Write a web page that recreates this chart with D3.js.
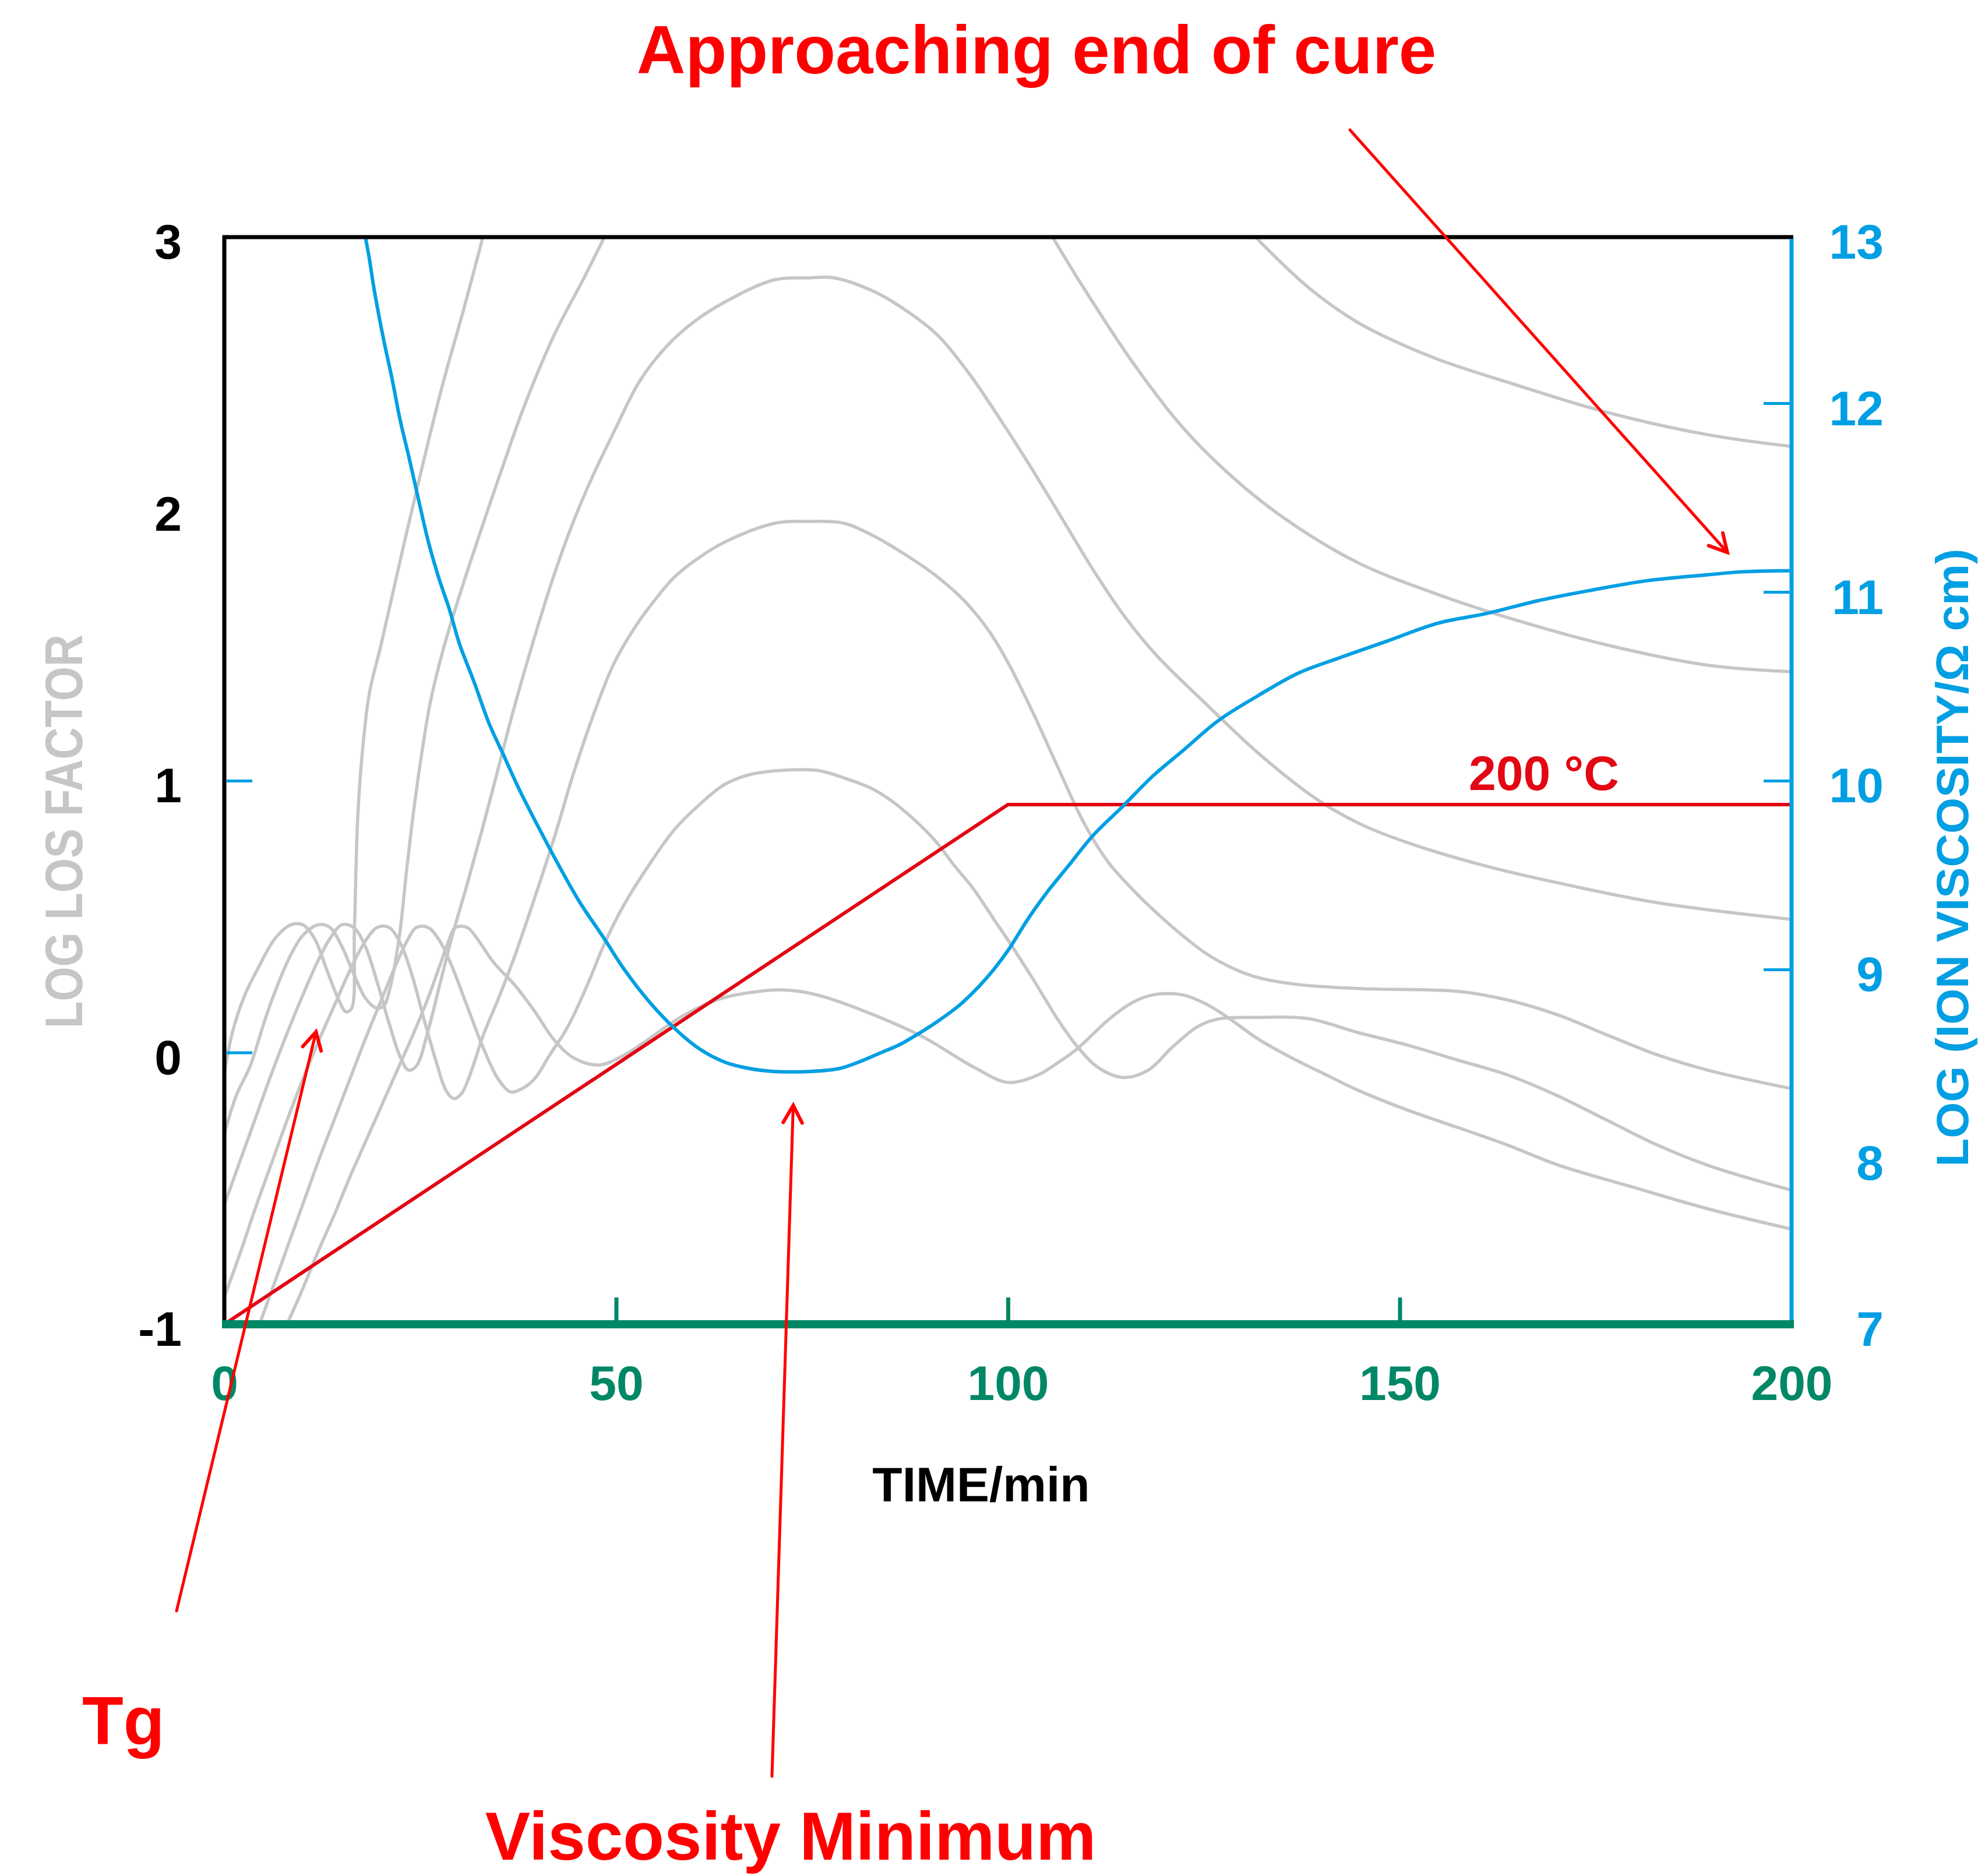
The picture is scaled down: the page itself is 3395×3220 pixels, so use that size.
<!DOCTYPE html>
<html>
<head>
<meta charset="utf-8">
<script src="https://cdn.jsdelivr.net/npm/d3@7"></script>
<style>
  html, body { margin: 0; padding: 0; background: #ffffff; }
  svg { display: block; }
  text { font-family: "Liberation Sans", Arial, Helvetica, sans-serif; font-weight: bold; }
</style>
</head>
<body>
<svg id="chart" width="3395" height="3220"></svg>
<script>
// ---------- axis ticks ----------
const timeTicks = [0, 50, 100, 150, 200];
const timeTickMarks = [50, 100, 150];
const lossTicks = [-1, 0, 1, 2, 3];
const lossTickMarks = [0, 1];
const viscTicks = [7, 8, 9, 10, 11, 12, 13];
const viscTickMarks = [9, 10, 11, 12];

// ---------- log ion viscosity [min, log(ohm cm)] ----------
const viscosity = [
  [18.05, 12.87], [18.5, 12.767], [19.1, 12.608], [20.3, 12.343], [21.4, 12.131], [22.4, 11.918],
  [23.6, 11.707], [24.9, 11.468], [26.1, 11.256], [27.4, 11.07], [28.7, 10.911], [30.0, 10.726],
  [31.9, 10.52], [33.8, 10.302], [35.7, 10.13], [37.6, 9.957], [40.2, 9.745], [42.7, 9.55],
  [45.3, 9.36], [48.5, 9.162], [51.0, 9.002], [54.2, 8.83], [57.4, 8.69], [60.6, 8.58],
  [63.8, 8.51], [67, 8.475], [70, 8.46], [75, 8.46], [78.5, 8.475], [81, 8.51],
  [83.5, 8.554], [86.1, 8.60], [88.6, 8.66], [91.2, 8.73], [93.8, 8.81], [96.3, 8.91],
  [98.2, 9.0], [100, 9.1], [102.6, 9.27], [105.1, 9.415], [107.7, 9.548],
  [110.8, 9.707], [114.7, 9.866], [118.5, 10.025], [122.3, 10.158], [126.8, 10.317], [131.9, 10.45],
  [137.0, 10.569], [142.1, 10.648], [148.5, 10.741], [154.8, 10.834], [161.2, 10.887], [167.6, 10.953],
  [174.0, 11.006], [181.6, 11.06], [189.3, 11.091], [193.8, 11.107], [200, 11.113]
];

// ---------- cure temperature programme [min, degC] ----------
const temperature = [[0, 0], [100, 200], [200, 200]];
const holdLabel = "200 °C";

// ---------- log loss factor, one series per frequency [min, log] (null = off scale) ----------
const lossA = [
  [0, -0.08], [1, 0.07], [2.6, 0.21], [4.3, 0.31], [6.5, 0.42], [8.5, 0.47], [10, 0.47], [11.5, 0.42],
  [13, 0.31], [14.5, 0.2], [15.5, 0.15], [16.2, 0.16], [16.6, 0.45], [17.0, 0.85], [17.6, 1.1],
  [18.5, 1.32], [20, 1.5], [21.5, 1.69], [23, 1.88], [24.8, 2.1], [27.7, 2.44], [30.6, 2.74],
  [33, 3.0], [80, null], [131.6, 3.0], [138.3, 2.816], [144.6, 2.687], [154.2, 2.558], [163.8, 2.466],
  [176.5, 2.355], [189.3, 2.273], [200, 2.23]
];
const lossB = [
  [0, -0.30], [1.5, -0.16], [3.3, -0.05], [5.3, 0.13], [7.1, 0.27], [8.5, 0.36], [10, 0.43], [12, 0.47],
  [13.5, 0.46], [15, 0.39], [16.5, 0.29], [18, 0.2], [19.3, 0.165], [20.3, 0.17], [21, 0.22], [22.3, 0.42],
  [23.3, 0.68], [24.3, 0.92], [25.3, 1.12], [26.3, 1.29], [28.1, 1.50], [30, 1.68], [32.5, 1.90],
  [35.7, 2.17], [38.3, 2.38], [42.1, 2.64], [45.9, 2.85], [48.5, 3.0],
  [80, null], [105.7, 3.0], [109.6, 2.816], [115.9, 2.54], [122.3, 2.3], [128.7, 2.116], [135.1, 1.969],
  [144.6, 1.803], [154.2, 1.692], [163.8, 1.6], [176.5, 1.499], [189.3, 1.425], [200, 1.401]
];
const lossC = [
  [0, -0.56], [2, -0.40], [4, -0.24], [6, -0.08], [8, 0.07], [10, 0.21], [12, 0.34], [13.5, 0.42],
  [15, 0.47], [16.5, 0.46], [18, 0.39], [19.5, 0.26], [21, 0.11], [22.5, -0.02], [23.5, -0.065],
  [24.5, -0.05], [26, 0.08], [27.5, 0.25], [29, 0.42], [31, 0.62], [33, 0.83], [35, 1.05],
  [37, 1.27], [39.5, 1.52], [42, 1.75], [44.5, 1.95], [47, 2.12], [50, 2.3], [53, 2.47],
  [56.5, 2.6], [60, 2.69], [63.8, 2.76], [70.2, 2.843], [74.6, 2.85], [77.8, 2.85], [82.9, 2.8],
  [87, 2.73], [91, 2.64], [95, 2.5], [99, 2.33], [103, 2.15], [107, 1.96], [111, 1.77],
  [115, 1.6], [119, 1.46], [125, 1.29], [132, 1.10], [139.5, 0.93], [145, 0.84],
  [151, 0.772], [160.6, 0.689], [170.2, 0.624], [182.9, 0.551], [200, 0.49]
];
const lossD = [
  [0, -0.90], [2, -0.74], [4, -0.57], [6, -0.41], [8, -0.25], [10, -0.1], [12, 0.04], [14, 0.17],
  [16, 0.3], [18, 0.41], [19.5, 0.46], [21, 0.46], [22.5, 0.4], [24, 0.28], [25.5, 0.12], [27, -0.03],
  [28.3, -0.14], [29.3, -0.17], [30.3, -0.15], [31.5, -0.07], [33, 0.06], [35, 0.2], [37, 0.35],
  [39.5, 0.56], [42.1, 0.79], [44.6, 1.03], [47.2, 1.25], [49.7, 1.43], [52.3, 1.56], [54.2, 1.637],
  [57.4, 1.748], [60.6, 1.821], [63.8, 1.877], [70.2, 1.947], [74.6, 1.954], [79.1, 1.947], [82.9, 1.9],
  [87, 1.83], [91, 1.75], [94.5, 1.66], [97.6, 1.55], [100, 1.435], [103.2, 1.25], [106.4, 1.048],
  [109.6, 0.85], [112.8, 0.70], [115.9, 0.60], [119.1, 0.51], [122.3, 0.43], [125.5, 0.36],
  [128.7, 0.31], [132, 0.275], [137, 0.25], [145, 0.235], [157.4, 0.225], [163.8, 0.193],
  [170.2, 0.138], [176.5, 0.064], [182.9, -0.009], [189.3, -0.065], [200, -0.133]
];
const lossE = [
  [4.5, -1.0], [6, -0.88], [8, -0.72], [10, -0.56], [12, -0.40], [14, -0.25], [16, -0.1], [18, 0.05],
  [20, 0.19], [22, 0.33], [23.5, 0.42], [24.5, 0.46], [26, 0.46], [27.5, 0.41], [29, 0.32], [31, 0.17],
  [33, 0.02], [35, -0.1], [36.5, -0.145], [37.5, -0.14], [39.5, -0.1], [41.5, -0.01], [43.4, 0.073],
  [44.6, 0.138], [46.6, 0.267], [48.5, 0.40], [51, 0.543], [54.2, 0.69], [57.4, 0.819], [60.6, 0.911],
  [63.8, 0.985], [67, 1.022], [72.7, 1.04], [75.9, 1.037], [79.7, 1.004], [82.9, 0.967], [86.1, 0.905],
  [90.6, 0.783], [93.1, 0.69], [95.7, 0.598], [98.2, 0.49], [100, 0.414], [103.2, 0.27], [106.4, 0.12],
  [108.9, 0.02], [111.5, -0.055], [114.7, -0.092], [117.9, -0.065], [121, 0.02], [124.2, 0.095],
  [126.8, 0.123], [131.9, 0.129], [138.3, 0.125], [144.6, 0.074], [151, 0.027], [157.4, -0.028],
  [163.8, -0.083], [170.2, -0.16], [176.5, -0.25], [182.9, -0.341], [189.3, -0.415], [200, -0.507]
];
const lossF = [
  [8, -1.0], [10, -0.87], [12, -0.73], [14, -0.6], [16, -0.46], [18, -0.33], [20, -0.2], [22, -0.07],
  [24, 0.06], [26, 0.2], [27.5, 0.32], [28.5, 0.4], [29.5, 0.46], [31, 0.46], [32, 0.43], [34.4, 0.33],
  [37, 0.25], [39.5, 0.156], [42.1, 0.046], [44.6, -0.02], [47.8, -0.046], [51, -0.01], [54.2, 0.05],
  [57.4, 0.115], [60.6, 0.166], [63.8, 0.202], [70.2, 0.23], [73.3, 0.225], [76.5, 0.205], [82.9, 0.138],
  [89.3, 0.055], [95.7, -0.055], [100, -0.11], [103.8, -0.083], [106.4, -0.037], [108.9, 0.015],
  [112.8, 0.12], [115.9, 0.184], [118.5, 0.212], [122.3, 0.212], [125.5, 0.175], [128.1, 0.128],
  [131.9, 0.05], [135.7, -0.012], [140.8, -0.085], [144.6, -0.138], [151, -0.212], [157.4, -0.276],
  [163.8, -0.341], [170.2, -0.414], [179.7, -0.495], [189.3, -0.575], [200, -0.65]
];
const lossSeries = [lossA, lossB, lossC, lossD, lossE, lossF];

// ---------- annotations: target in data units, tail and label in page pixels ----------
const notes = [
  { text: "Approaching end of cure", tx: 1779, ty: 126, anchor: "middle", target: { t: 191.8, visc: 11.21 }, tail: [2317, 223] },
  { text: "Tg", tx: 141, ty: 2994, anchor: "start", target: { t: 11.7, loss: 0.076 }, tail: [303, 2765] },
  { text: "Viscosity Minimum", tx: 1357, ty: 3192, anchor: "middle", target: { t: 72.6, visc: 8.28 }, tail: [1325, 3049] }
];

// ---------- colours ----------
const C = {
  grey: "#c6c6c6", blue: "#009fe3", ramp: "#e30613", note: "#ff0000", green: "#008766", black: "#000000"
};

// ---------- layout ----------
const plot = { left: 385, top: 407, right: 3075, bottom: 2273 };
const H = plot.bottom - plot.top;

const x = d3.scaleLinear().domain([0, 200]).range([plot.left, plot.right]);
const yLoss = d3.scaleLinear().domain([-1, 3]).range([plot.bottom, plot.top]);
const yVisc = d3.scaleLinear().domain([7.12, 12.88]).range([plot.bottom, plot.top]).clamp(true);
const yTemp = d3.scaleLinear().domain([0, 200]).range([plot.bottom, plot.bottom - 0.478 * H]);

const svg = d3.select("#chart");

svg.append("defs").append("clipPath").attr("id", "plotClip")
  .append("rect")
  .attr("x", plot.left).attr("y", plot.top)
  .attr("width", plot.right - plot.left).attr("height", H);

const area = svg.append("g").attr("clip-path", "url(#plotClip)");

// loss factor curves
const lossLine = d3.line()
  .defined(d => d[1] != null)
  .x(d => x(d[0])).y(d => yLoss(d[1]))
  .curve(d3.curveCatmullRom.alpha(0.5));

area.append("g").selectAll("path").data(lossSeries).join("path")
  .attr("d", lossLine)
  .attr("fill", "none").attr("stroke", C.grey).attr("stroke-width", 5.5)
  .attr("stroke-linejoin", "round");

// temperature programme
const tempLine = d3.line().x(d => x(d[0])).y(d => yTemp(d[1]));
area.append("path").datum(temperature)
  .attr("d", tempLine)
  .attr("fill", "none").attr("stroke", C.ramp).attr("stroke-width", 6);

// ion viscosity
const viscLine = d3.line().x(d => x(d[0])).y(d => yVisc(d[1])).curve(d3.curveCatmullRom.alpha(0.5));
area.append("path").datum(viscosity)
  .attr("d", viscLine)
  .attr("fill", "none").attr("stroke", C.blue).attr("stroke-width", 6);

// hold temperature label
const hold = temperature[temperature.length - 1];
svg.append("text")
  .attr("x", x(168.4)).attr("y", yTemp(hold[1]) - 25)
  .attr("text-anchor", "middle").attr("font-size", 84).attr("fill", C.ramp)
  .text(holdLabel);

// ---------- frame ----------
svg.append("line").attr("x1", plot.left - 3).attr("x2", plot.right + 3)
  .attr("y1", plot.top).attr("y2", plot.top)
  .attr("stroke", C.black).attr("stroke-width", 7);
svg.append("line").attr("x1", plot.left).attr("x2", plot.left)
  .attr("y1", plot.top - 3).attr("y2", plot.bottom)
  .attr("stroke", C.black).attr("stroke-width", 7);
svg.append("line").attr("x1", plot.right).attr("x2", plot.right)
  .attr("y1", plot.top + 3).attr("y2", plot.bottom)
  .attr("stroke", C.blue).attr("stroke-width", 7);

// inward blue ticks on the left and right axes
svg.append("g").attr("transform", `translate(${plot.left + 3},0)`)
  .call(d3.axisRight(yLoss).tickValues(lossTickMarks).tickSize(45).tickFormat(""))
  .call(g => g.select(".domain").remove())
  .call(g => g.selectAll("line").attr("stroke", C.blue).attr("stroke-width", 5));

svg.append("g").attr("transform", `translate(${plot.right - 3},0)`)
  .call(d3.axisLeft(yVisc).tickValues(viscTickMarks).tickSize(45).tickFormat(""))
  .call(g => g.select(".domain").remove())
  .call(g => g.selectAll("line").attr("stroke", C.blue).attr("stroke-width", 5));

// inward time ticks
svg.append("g").attr("transform", `translate(0,${plot.bottom - 6})`)
  .call(d3.axisTop(x).tickValues(timeTickMarks).tickSize(40).tickFormat(""))
  .call(g => g.select(".domain").remove())
  .call(g => g.selectAll("line").attr("stroke", C.green).attr("stroke-width", 7));

// time axis line
svg.append("line").attr("x1", plot.left - 4).attr("x2", plot.right + 4)
  .attr("y1", plot.bottom).attr("y2", plot.bottom)
  .attr("stroke", C.green).attr("stroke-width", 14);

// ---------- tick labels ----------
svg.append("g").attr("transform", `translate(${plot.left},0)`)
  .call(d3.axisLeft(yLoss).tickValues(lossTicks).tickSize(0).tickPadding(73).tickFormat(d => String(d)))
  .call(g => g.select(".domain").remove())
  .call(g => g.selectAll("text")
    .attr("dy", "0.44em").attr("font-size", 84).attr("fill", C.black)
    .attr("font-family", null));

svg.append("g").attr("transform", `translate(${plot.right},0)`)
  .call(d3.axisRight(yVisc).tickValues(viscTicks).tickSize(0).tickPadding(158).tickFormat(d => String(d)))
  .call(g => g.select(".domain").remove())
  .call(g => g.selectAll("text")
    .attr("text-anchor", "end").attr("dy", "0.44em").attr("font-size", 84).attr("fill", C.blue)
    .attr("font-family", null));

svg.append("g").attr("transform", `translate(0,${plot.bottom})`)
  .call(d3.axisBottom(x).tickValues(timeTicks).tickSize(0).tickPadding(0).tickFormat(d => String(d)))
  .call(g => g.select(".domain").remove())
  .call(g => g.selectAll("text")
    .attr("y", 130).attr("dy", null).attr("font-size", 84).attr("fill", C.green)
    .attr("font-family", null));

// ---------- axis titles ----------
svg.append("text")
  .attr("x", 1684).attr("y", 2577)
  .attr("text-anchor", "middle").attr("font-size", 84).attr("fill", C.black)
  .text("TIME/min");

svg.append("text")
  .attr("transform", `translate(141,${(plot.top + plot.bottom) / 2 + 87}) rotate(-90)`)
  .attr("text-anchor", "middle").attr("font-size", 90).attr("fill", C.grey)
  .attr("textLength", 676).attr("lengthAdjust", "spacingAndGlyphs")
  .text("LOG LOS FACTOR");

svg.append("text")
  .attr("transform", `translate(3378,${(plot.top + plot.bottom) / 2 + 132}) rotate(-90)`)
  .attr("text-anchor", "middle").attr("font-size", 78).attr("fill", C.blue)
  .attr("textLength", 1061).attr("lengthAdjust", "spacingAndGlyphs")
  .text("LOG (ION VISCOSITY/Ω cm)");

// ---------- annotations ----------
function arrowHead(x1, y1, x2, y2, len, spread) {
  const a = Math.atan2(y2 - y1, x2 - x1);
  const p1 = [x2 - len * Math.cos(a - spread), y2 - len * Math.sin(a - spread)];
  const p2 = [x2 - len * Math.cos(a + spread), y2 - len * Math.sin(a + spread)];
  return `M${p1[0]},${p1[1]}L${x2},${y2}L${p2[0]},${p2[1]}`;
}

const noteLayer = svg.append("g");
notes.forEach(n => {
  const tipX = x(n.target.t);
  const tipY = n.target.visc != null ? yVisc(n.target.visc) : yLoss(n.target.loss);
  noteLayer.append("line")
    .attr("x1", n.tail[0]).attr("y1", n.tail[1]).attr("x2", tipX).attr("y2", tipY)
    .attr("stroke", C.note).attr("stroke-width", 5).attr("stroke-linecap", "round");
  noteLayer.append("path")
    .attr("d", arrowHead(n.tail[0], n.tail[1], tipX, tipY, 34, 0.5))
    .attr("fill", "none").attr("stroke", C.note).attr("stroke-width", 6)
    .attr("stroke-linejoin", "miter").attr("stroke-linecap", "round");
  noteLayer.append("text")
    .attr("x", n.tx).attr("y", n.ty).attr("text-anchor", n.anchor)
    .attr("font-size", 116).attr("fill", C.note)
    .text(n.text);
});
</script>
</body>
</html>
